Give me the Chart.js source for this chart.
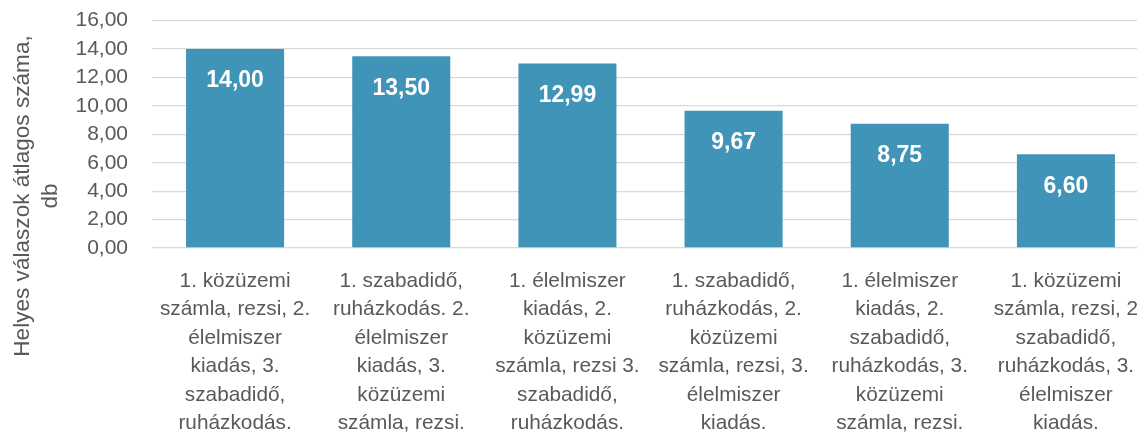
<!DOCTYPE html>
<html>
<head>
<meta charset="utf-8">
<script src="https://cdn.jsdelivr.net/npm/chart.js@4/dist/chart.umd.min.js"></script>
<style>
  html, body { margin: 0; padding: 0; overflow: hidden; background: #ffffff; }
  #wrap { width: 1137px; height: 435px; overflow: hidden; }
</style>
</head>
<body>
<div id="wrap"><canvas id="c" width="1149" height="435"></canvas></div>
<script>
const categories = [
  ["1. közüzemi", "számla, rezsi, 2.", "élelmiszer", "kiadás, 3.", "szabadidő,", "ruházkodás."],
  ["1. szabadidő,", "ruházkodás. 2.", "élelmiszer", "kiadás, 3.", "közüzemi", "számla, rezsi."],
  ["1. élelmiszer", "kiadás, 2.", "közüzemi", "számla, rezsi 3.", "szabadidő,", "ruházkodás."],
  ["1. szabadidő,", "ruházkodás, 2.", "közüzemi", "számla, rezsi, 3.", "élelmiszer", "kiadás."],
  ["1. élelmiszer", "kiadás, 2.", "szabadidő,", "ruházkodás, 3.", "közüzemi", "számla, rezsi."],
  ["1. közüzemi", "számla, rezsi, 2", "szabadidő,", "ruházkodás, 3.", "élelmiszer", "kiadás."]
];
const values = [14.00, 13.50, 12.99, 9.67, 8.75, 6.60];
const yTitle = ["Helyes válaszok átlagos száma,", "db"];
const yMin = 0;
const yMax = 16;
const yStep = 2;

const FONT = "'Liberation Sans', Arial, sans-serif";
const TEXT = '#595959';
const fmt = v => v.toFixed(2).replace('.', ',');

const valueLabels = {
  id: 'valueLabels',
  afterDatasetsDraw(chart) {
    const ctx = chart.ctx;
    const meta = chart.getDatasetMeta(0);
    ctx.save();
    ctx.fillStyle = '#ffffff';
    ctx.font = "bold 23px " + FONT;
    ctx.textAlign = 'center';
    ctx.textBaseline = 'middle';
    meta.data.forEach((bar, i) => {
      ctx.fillText(fmt(chart.data.datasets[0].data[i]), bar.x, bar.y + 32);
    });
    ctx.restore();
  }
};

new Chart(document.getElementById('c'), {
  type: 'bar',
  data: {
    labels: categories,
    datasets: [{
      data: values,
      backgroundColor: '#4094B7',
      borderWidth: 0,
      barPercentage: 0.59,
      categoryPercentage: 1.0
    }]
  },
  options: {
    responsive: false,
    animation: false,
    devicePixelRatio: 1,
    layout: { padding: { top: -43, bottom: 0, left: 0, right: 0 } },
    plugins: {
      legend: { display: false },
      tooltip: { enabled: false },
      title: {
        display: true,
        position: 'left',
        text: yTitle,
        color: TEXT,
        font: { family: FONT, size: 22.6, weight: 'normal', lineHeight: 1.24 },
        padding: { top: 9, bottom: 0 }
      },
      subtitle: {
        display: true,
        position: 'top',
        text: '',
        font: { size: 10, lineHeight: 1 },
        padding: { top: 53.7, bottom: 0 }
      }
    },
    scales: {
      x: {
        grid: {
          display: true,
          drawOnChartArea: false,
          color: 'rgba(0,0,0,0)',
          tickColor: 'rgba(0,0,0,0)',
          drawTicks: true,
          tickLength: 19
        },
        border: { display: false },
        ticks: {
          color: TEXT,
          font: { family: FONT, size: 20.8, lineHeight: 1.37 },
          padding: 0,
          maxRotation: 0,
          minRotation: 0,
          autoSkip: false
        },
        afterFit(scale) { scale.height = 187; }
      },
      y: {
        min: yMin,
        max: yMax,
        border: { display: false },
        grid: {
          color: '#D9D9D9',
          lineWidth: 1.3,
          drawTicks: true,
          tickLength: 24,
          tickColor: 'rgba(0,0,0,0)'
        },
        ticks: {
          stepSize: yStep,
          autoSkip: false,
          color: TEXT,
          font: { family: FONT, size: 21 },
          padding: 0,
          callback: v => fmt(v)
        },
        afterFit(scale) { scale.width = 152 - 9 - 2 * 22.6 * 1.24; }
      }
    }
  },
  plugins: [valueLabels]
});
</script>
</body>
</html>
